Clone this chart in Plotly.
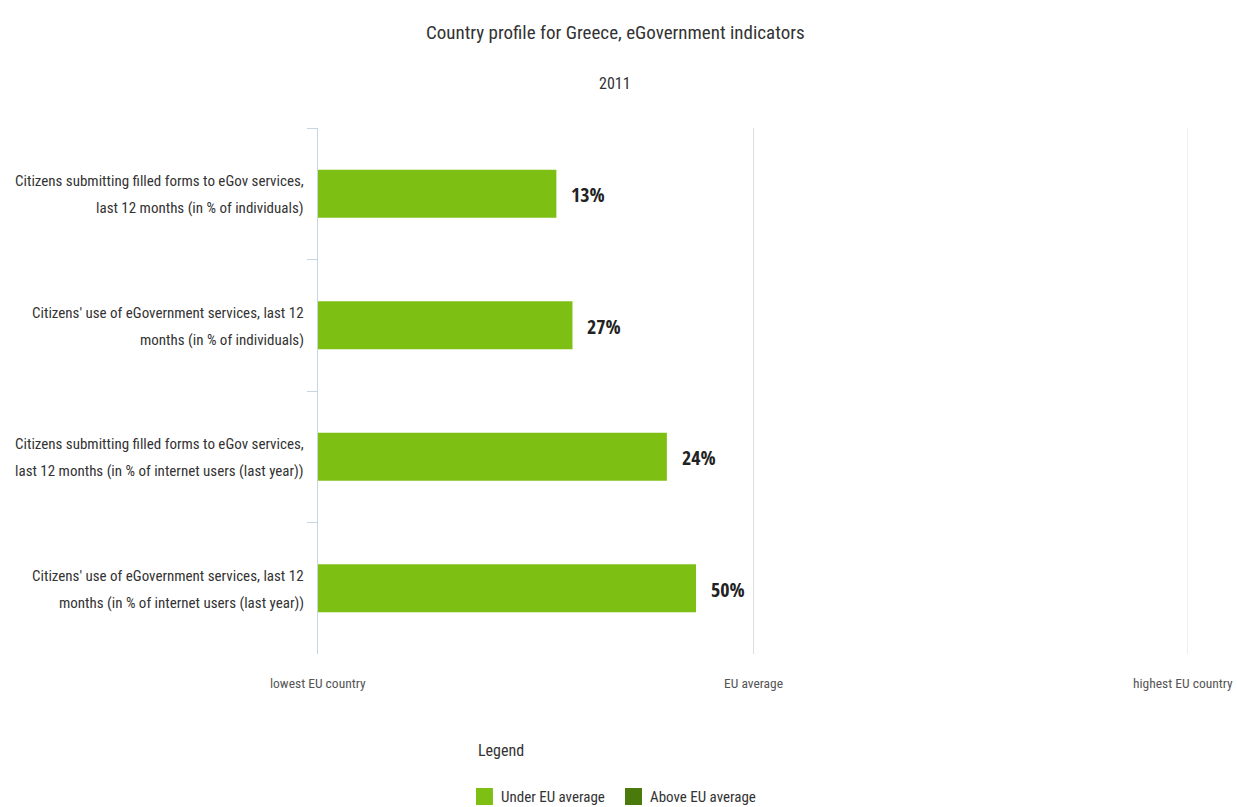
import plotly.graph_objects as go

categories = [
    "Citizens submitting filled forms to eGov services,<br>last 12 months (in % of individuals)",
    "Citizens' use of eGovernment services, last 12<br>months (in % of individuals)",
    "Citizens submitting filled forms to eGov services,<br>last 12 months (in % of internet users (last year))",
    "Citizens' use of eGovernment services, last 12<br>months (in % of internet users (last year))",
]
# relative position: 0 = lowest EU country, 1 = EU average, 2 = highest EU country
positions = [0.548, 0.585, 0.802, 0.869]
value_labels = ["13%", "27%", "24%", "50%"]
tick_vals = [0, 1, 2]
tick_text = ["lowest EU country", "EU average", "highest EU country"]
legend_names = ["Under EU average", "Above EU average"]
legend_colors = ["#7dc013", "#4a7a0b"]

FONT = "Roboto Condensed, Liberation Sans, sans-serif"
BOLD = "Open Sans Condensed, Roboto Condensed, sans-serif"
LINE_GAP = 27  # px between the two lines of a category label

fig = go.Figure()
fig.add_trace(go.Bar(
    y=categories, x=positions, orientation="h",
    marker=dict(color=legend_colors[0], line=dict(width=0)),
    width=0.365, name=legend_names[0], hoverinfo="skip", showlegend=False,
))

# value labels
for cat, pos, lab in zip(categories, positions, value_labels):
    fig.add_annotation(x=pos, y=cat, text=lab, showarrow=False,
                       xanchor="left", xshift=13, yshift=-1,
                       font=dict(family=BOLD, size=20, color="#222222"))

# category labels (two lines each, wider line spacing)
for cat in categories:
    lines = cat.split("<br>")
    n = len(lines)
    for i, ln in enumerate(lines):
        fig.add_annotation(x=0, y=cat, text=ln, showarrow=False,
                           xanchor="right", yanchor="middle", xshift=-12,
                           yshift=((n - 1) / 2 - i) * LINE_GAP - 1,
                           font=dict(family=FONT, size=15, color="#333333"))

# x tick labels
for tv, tt in zip(tick_vals, tick_text):
    fig.add_annotation(x=tv, y=0, yref="paper", text=tt, showarrow=False,
                       xanchor="center", yanchor="middle", yshift=-29,
                       xshift=-5 if tv == tick_vals[-1] else 0,
                       font=dict(family=FONT, size=13.5, color="#555555"))

# reference line at the highest EU country
fig.add_shape(type="line", xref="x", yref="paper", x0=tick_vals[-1], x1=tick_vals[-1],
              y0=0, y1=1, line=dict(color="#dedede", width=1), layer="below")

# titles
fig.add_annotation(xref="paper", yref="paper", x=0.342, y=1.1825, xanchor="center", yanchor="middle",
                   text="Country profile for Greece, eGovernment indicators", showarrow=False,
                   font=dict(family=FONT, size=19, color="#333333"))
fig.add_annotation(xref="paper", yref="paper", x=0.341, y=1.0837, xanchor="center", yanchor="middle",
                   text="2011", showarrow=False,
                   font=dict(family=FONT, size=16, color="#333333"))

# legend (drawn manually)
fig.add_annotation(xref="paper", yref="paper", x=0.1816, y=-0.1844, xanchor="left", yanchor="middle",
                   text="Legend", showarrow=False, font=dict(family=FONT, size=16, color="#333333"))
leg_x = [0.1816, 0.3529]
for lx, name, col in zip(leg_x, legend_names, legend_colors):
    fig.add_shape(type="rect", xref="paper", yref="paper", x0=lx, x1=lx + 0.0195,
                  y0=-0.2548, y1=-0.2871, fillcolor=col, line=dict(width=0))
    fig.add_annotation(xref="paper", yref="paper", x=lx + 0.0265, y=-0.2719, xanchor="left", yanchor="middle",
                       text=name, showarrow=False, font=dict(family=FONT, size=15, color="#333333"))

fig.update_layout(
    width=1237, height=807,
    margin=dict(l=318, r=49, t=128, b=153, autoexpand=False),
    paper_bgcolor="white", plot_bgcolor="white",
    font=dict(family=FONT, color="#333333"),
    showlegend=False,
)
fig.update_xaxes(range=[0, 2], tickvals=tick_vals, showticklabels=False,
                 showgrid=True, gridcolor="#dedede", gridwidth=1,
                 zeroline=False, showline=False, ticks="", automargin=False)
fig.update_yaxes(categoryorder="array", categoryarray=categories, autorange="reversed",
                 showline=True, linecolor="#c8d6e4", linewidth=1, showticklabels=False,
                 ticks="outside", tickson="boundaries", ticklen=10, tickcolor="#c8d6e4",
                 showgrid=False, zeroline=False, automargin=False)

fig.write_html("out.html")
